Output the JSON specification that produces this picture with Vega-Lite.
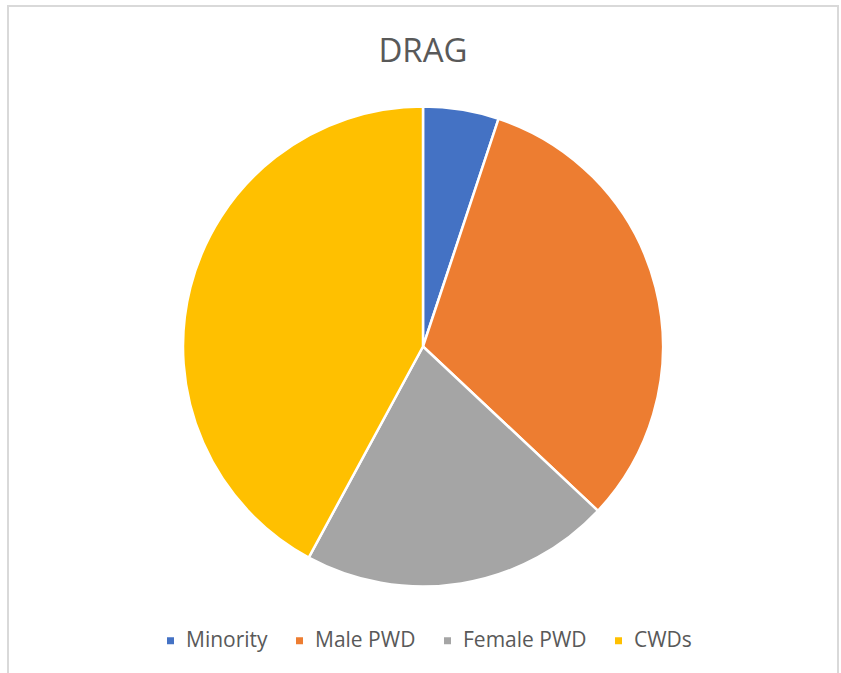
{
  "$schema": "https://vega.github.io/schema/vega-lite/v6.json",
  "autosize": {"type": "none"},
  "width": 830,
  "height": 681,
  "padding": {"left": 8, "top": 6, "right": 3, "bottom": 0},
  "background": "white",
  "view": {"stroke": "#d9d9d9", "strokeWidth": 2},
  "title": {
    "text": "DRAG",
    "font": "Open Sans",
    "fontSize": 33,
    "fontWeight": "normal",
    "color": "#595959",
    "anchor": "middle",
    "offset": -63
  },
  "data": {
    "values": [
      {"category": "Minority", "value": 5.1, "order": 1},
      {"category": "Male PWD", "value": 31.9, "order": 2},
      {"category": "Female PWD", "value": 20.9, "order": 3},
      {"category": "CWDs", "value": 42.1, "order": 4}
    ]
  },
  "mark": {"type": "arc", "outerRadius": 240, "stroke": "white", "strokeWidth": 2.5},
  "encoding": {
    "theta": {"field": "value", "type": "quantitative", "stack": true},
    "order": {"field": "order", "type": "quantitative"},
    "color": {
      "field": "category",
      "type": "nominal",
      "sort": ["Minority", "Male PWD", "Female PWD", "CWDs"],
      "scale": {
        "domain": ["Minority", "Male PWD", "Female PWD", "CWDs"],
        "range": ["#4472C4", "#ED7D31", "#A5A5A5", "#FFC000"]
      },
      "legend": {
        "title": null,
        "orient": "none",
        "direction": "horizontal",
        "legendX": 152,
        "legendY": 624,
        "padding": 0,
        "symbolType": "square",
        "symbolSize": 49,
        "symbolStrokeWidth": 0,
        "labelFont": "Open Sans",
        "labelFontSize": 21,
        "labelColor": "#595959",
        "labelOffset": 5,
        "columnPadding": 21
      }
    }
  }
}
